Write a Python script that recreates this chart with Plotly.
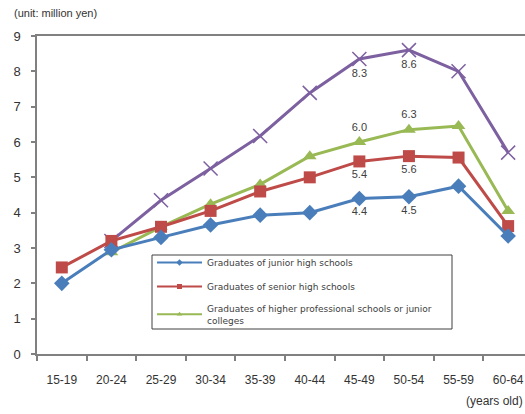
import plotly.graph_objects as go

ages = ["15-19", "20-24", "25-29", "30-34", "35-39", "40-44", "45-49", "50-54", "55-59", "60-64"]

junior_high = [2.0, 2.95, 3.3, 3.65, 3.93, 4.0, 4.4, 4.45, 4.75, 3.34]
senior_high = [2.45, 3.2, 3.6, 4.05, 4.6, 5.0, 5.45, 5.6, 5.56, 3.62]
higher_prof = [None, 2.88, 3.6, 4.24, 4.8, 5.6, 6.0, 6.35, 6.45, 4.05]
university = [None, 3.2, 4.35, 5.25, 6.17, 7.39, 8.35, 8.6, 8.0, 5.7]

junior_labels = ["", "", "", "", "", "", "4.4", "4.5", "", ""]
senior_labels = ["", "", "", "", "", "", "5.4", "5.6", "", ""]
higher_labels = ["", "", "", "", "", "", "6.0", "6.3", "", ""]
univ_labels = ["", "", "", "", "", "", "8.3", "8.6", "", ""]

names = [
    "Graduates of junior high schools",
    "Graduates of senior high schools",
    "Graduates of higher professional schools or junior<br>colleges",
]

BLUE = "#4A7EBB"
RED = "#BE4B48"
GREEN = "#98B954"
PURPLE = "#7D60A0"
LABEL = "#404040"
LBLFONT = dict(size=11, color=LABEL, family="Liberation Sans, Arial")

fig = go.Figure()

series = [
    (university, univ_labels, PURPLE, dict(symbol="x-thin-open", size=14, line=dict(color=PURPLE, width=1.5), color=PURPLE), "bottom center"),
    (higher_prof, higher_labels, GREEN, dict(symbol="triangle-up", size=12, color=GREEN), "top center"),
    (senior_high, senior_labels, RED, dict(symbol="square", size=12, color=RED), "bottom center"),
    (junior_high, junior_labels, BLUE, dict(symbol="diamond", size=12, color=BLUE), "bottom center"),
]
for vals, labels, col, mk, pos in series:
    fig.add_trace(go.Scatter(
        x=ages, y=vals, mode="lines+markers+text",
        line=dict(color=col, width=3), marker=mk,
        text=labels, textposition=pos, textfont=LBLFONT,
        showlegend=False, hoverinfo="x+y",
    ))

# legend entries (small markers as in the reference legend)
legend_items = [
    (names[0], BLUE, "diamond"),
    (names[1], RED, "square"),
    (names[2], GREEN, "triangle-up"),
]
for i, (nm, col, sym) in enumerate(legend_items):
    fig.add_trace(go.Scatter(
        x=[None], y=[None], mode="lines+markers", name=nm,
        line=dict(color=col, width=2),
        marker=dict(symbol=sym, size=5, color=col),
        legendgroup=f"g{i}", legendrank=i + 1,
    ))

fig.update_layout(
    width=525, height=414,
    margin=dict(l=37, r=0, t=36, b=60),
    paper_bgcolor="white", plot_bgcolor="white",
    font=dict(family="Liberation Sans, Arial", size=12, color="#333333"),
    legend=dict(
        x=0.2357, y=(354 - 248) / 318, xanchor="left", yanchor="top",
        borderwidth=0, bgcolor="rgba(0,0,0,0)",
        font=dict(size=9, color="#404040", family="DejaVu Sans"),
        tracegroupgap=5, traceorder="grouped",
        itemwidth=45,
    ),
    xaxis=dict(
        type="category", range=[-0.5, 9.34],
        showline=True, linecolor="#808080", linewidth=1.5, mirror=True,
        ticks="outside", ticklen=5, tickcolor="#808080", tickwidth=1.5,
        tickson="boundaries", showgrid=False, ticklabelstandoff=14,
        tickfont=dict(size=12, color="#333333"),
    ),
    yaxis=dict(
        range=[0, 9], dtick=1, tick0=0,
        showline=True, linecolor="#808080", linewidth=1.5,
        ticks="outside", ticklen=4, tickcolor="#808080", tickwidth=1.5,
        showgrid=False, zeroline=False, ticklabelstandoff=8,
        tickfont=dict(size=13, color="#333333"),
    ),
    shapes=[
        dict(type="rect", xref="paper", yref="paper",
             x0=(152 - 37) / 488, x1=(452 - 37) / 488,
             y0=(354 - 329) / 318, y1=(354 - 255) / 318,
             line=dict(color="#404040", width=1), fillcolor="white", layer="below"),
    ],
)

fig.add_annotation(text="(unit: million yen)", xref="paper", yref="paper",
                   x=-25 / 488, y=1 + 23 / 318, xanchor="left", yanchor="middle",
                   showarrow=False, font=dict(size=11, color="#333333"))
fig.add_annotation(text="(years old)", xref="paper", yref="paper",
                   x=1.0, y=-47 / 318, xanchor="right", yanchor="middle",
                   showarrow=False, font=dict(size=12, color="#333333"))

fig.write_html("out.html")
